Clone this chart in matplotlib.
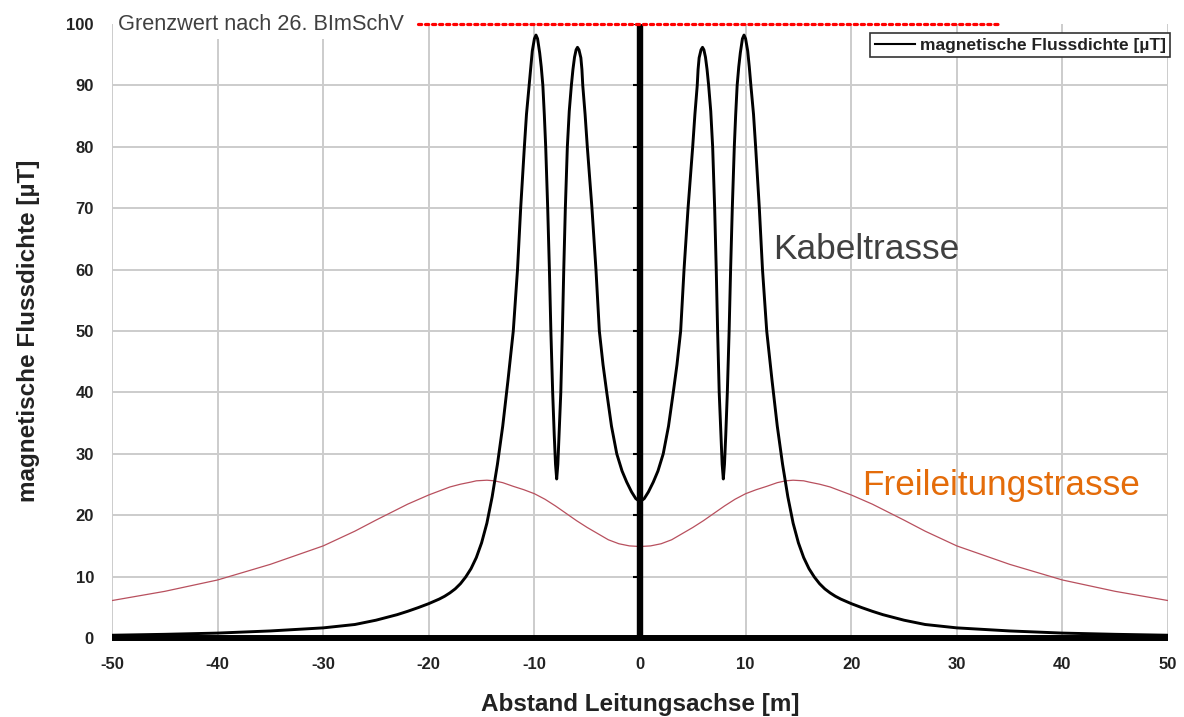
import numpy as np
import matplotlib
matplotlib.use('Agg')
import matplotlib.pyplot as plt

plt.rcParams['font.family'] = ['Liberation Sans', 'DejaVu Sans']
plt.rcParams['axes.unicode_minus'] = False

# %% ============================== Data =======================================
# Kabeltrasse (black)
kabel_x = [-50, -45, -40, -35, -30, -27, -25, -23, -22, -21, -20, -19, -18.5,
           -18, -17.5, -17, -16.5, -16, -15.5, -15, -14.5, -14, -13.5, -13,
           -12.5, -12, -11.6, -11.3, -10.95, -10.75, -10.5, -10.35, -10.2,
           -10.0, -9.85, -9.7, -9.5, -9.35, -9.2, -9.06, -8.93, -8.74, -8.58,
           -8.44, -8.27, -8.12, -8.0, -7.89, -7.78, -7.67, -7.5, -7.35, -7.22,
           -7.07, -6.88, -6.7, -6.5, -6.35, -6.2, -6.05, -5.92, -5.78, -5.6,
           -5.5, -5.42, -5.2, -4.99, -4.55, -4.17, -3.85, -3.5, -3.15, -2.7,
           -2.2, -1.7, -1.26, -0.8, -0.4, 0,
           0.4, 0.8, 1.26, 1.7, 2.2, 2.7, 3.15, 3.5, 3.85, 4.17, 4.55, 4.99,
           5.2, 5.42, 5.5, 5.6, 5.78, 5.92, 6.05, 6.2, 6.35, 6.5, 6.7, 6.88,
           7.07, 7.22, 7.35, 7.5, 7.67, 7.78, 7.89, 8.0, 8.12, 8.27, 8.44,
           8.58, 8.74, 8.93, 9.06, 9.2, 9.35, 9.5, 9.7, 9.85, 10.0, 10.2,
           10.35, 10.5, 10.75, 10.95, 11.3, 11.6, 12, 12.5, 13, 13.5, 14,
           14.5, 15, 15.5, 16, 16.5, 17, 17.5, 18, 18.5, 19, 20, 21, 22, 23,
           25, 27, 30, 35, 40, 45, 50]
kabel_y = [0.45, 0.6, 0.8, 1.15, 1.65, 2.2, 2.9, 3.8, 4.35, 4.95, 5.6, 6.35,
           6.8, 7.35, 8.0, 8.85, 9.95, 11.3, 13.1, 15.5, 18.7, 23.0, 28.3,
           34.5, 42.0, 50, 60, 70, 80, 85.3, 90, 93.0, 95.6,
           97.6, 98.2, 97.6, 95.3, 93.0, 90, 85.2, 80, 70, 60,
           50, 40, 33, 28.3, 25.9, 28.3, 33, 40, 50, 60,
           70, 80, 85.8, 90, 92.6, 94.6, 95.8, 96.2, 95.8, 94.5,
           92.6, 90, 85.3, 80, 70, 60, 50, 44.5, 40, 34.5,
           30, 27.2, 25.4, 23.8, 22.7, 22.2,
           22.7, 23.8, 25.4, 27.2, 30, 34.5, 40, 44.5, 50, 60, 70, 80,
           85.3, 90, 92.6, 94.5, 95.8, 96.2, 95.8, 94.6, 92.6, 90, 85.8, 80,
           70, 60, 50, 40, 33, 28.3, 25.9, 28.3, 33, 40, 50,
           60, 70, 80, 85.2, 90, 93.0, 95.3, 97.6, 98.2, 97.6, 95.6,
           93.0, 90, 85.3, 80, 70, 60, 50, 42.0, 34.5, 28.3, 23.0,
           18.7, 15.5, 13.1, 11.3, 9.95, 8.85, 8.0, 7.35, 6.8, 6.35, 5.6,
           4.95, 4.35, 3.8, 2.9, 2.2, 1.65, 1.15, 0.8, 0.6, 0.45]

# Freileitungstrasse (red)
frei_x = [-50, -45, -40, -35, -30, -27, -25, -22, -20, -18, -17, -16, -15.5,
          -14.5, -13.8, -13, -12, -11, -10, -9, -8, -7, -6, -5, -4, -3, -2,
          -1, 0,
          1, 2, 3, 4, 5, 6, 7, 8, 9, 10, 11, 12, 13, 13.8, 14.5, 15.5, 16, 17,
          18, 20, 22, 25, 27, 30, 35, 40, 45, 50]
frei_y = [6.1, 7.6, 9.45, 12.0, 15.0, 17.4, 19.2, 21.8, 23.3, 24.6, 25.05,
          25.4, 25.6, 25.7, 25.6, 25.3, 24.7, 24.15, 23.5, 22.6, 21.5, 20.3,
          19.1, 18.0, 17.0, 16.0, 15.35, 15.0, 14.9,
          15.0, 15.35, 16.0, 17.0, 18.0, 19.1, 20.3, 21.5, 22.6, 23.5, 24.15,
          24.7, 25.3, 25.6, 25.7, 25.6, 25.4, 25.05, 24.6, 23.3, 21.8, 19.2,
          17.4, 15.0, 12.0, 9.45, 7.6, 6.1]

# Grenzwert line
grenz_x = [-21, 34]
grenz_y = [100, 100]

x_ticks = [-50, -40, -30, -20, -10, 0, 10, 20, 30, 40, 50]
y_ticks = [0, 10, 20, 30, 40, 50, 60, 70, 80, 90, 100]

# %% ============================= Figure =====================================
fig = plt.figure(figsize=(11.84, 7.17), dpi=100)
ax = fig.add_axes([112/1184, 1 - 638/717, (1168-112)/1184, (638-24)/717])

ax.set_xlim(-50, 50)
ax.set_ylim(0, 100)
ax.set_xticks(x_ticks)
ax.set_yticks(y_ticks)
ax.tick_params(length=0, labelsize=12, labelcolor='#222222')
ax.tick_params(axis='y', pad=13)
ax.tick_params(axis='x', pad=14)
for lab in ax.get_xticklabels() + ax.get_yticklabels():
    lab.set_fontweight('bold')

ax.grid(True, color='#cccccc', linewidth=1.4, zorder=0)
ax.yaxis.get_gridlines()[-1].set_visible(False)
for s in ax.spines.values():
    s.set_visible(False)

# axes crosses
ax.plot([-50, 50], [0, 0], color='black', lw=4.3, solid_capstyle='butt',
        clip_on=False, zorder=4)
ax.plot([0, 0], [0, 100], color='black', lw=4.6, solid_capstyle='butt',
        clip_on=False, zorder=4)
ax.plot(np.zeros(len(y_ticks) - 1), y_ticks[1:], ls='none', marker=0,
        markersize=5, mew=1.5, color='black', zorder=4)

# %% ============================== Plot ======================================
ax.plot(frei_x, frei_y, color='#b8505e', lw=0.9, zorder=3)
ax.plot(kabel_x, kabel_y, color='black', lw=2.1, zorder=5,
        solid_joinstyle='round', label='magnetische Flussdichte [µT]')
ax.plot(grenz_x, grenz_y, color='#ff0000', lw=2.3, linestyle=(0, (1, 1.2)),
        dash_capstyle='round', clip_on=False, zorder=6)

# %% ============================== Text ======================================
ax.text(-49.45, 100, 'Grenzwert nach 26. BImSchV', fontsize=15.7,
        color='#404040', va='center', ha='left', zorder=7,
        bbox=dict(facecolor='white', edgecolor='none', pad=3))
ax.text(12.6, 63.2, 'Kabeltrasse', fontsize=25.4,
        color='#404040', va='center', ha='left')
ax.text(21.0, 24.9, 'Freileitungstrasse', fontsize=25.3,
        color='#e46c0a', va='center', ha='left')

ax.set_xlabel('Abstand Leitungsachse [m]', fontsize=17.5, fontweight='bold',
              color='#222222', labelpad=15)
ax.set_ylabel('magnetische Flussdichte [µT]', fontsize=17.5,
              fontweight='bold', color='#222222', labelpad=19)

leg = ax.legend(loc='upper right', bbox_to_anchor=(1.002, 0.985),
                fancybox=False, framealpha=1, edgecolor='#333333',
                prop={'size': 12.5, 'weight': 'bold'}, handlelength=2.3,
                handletextpad=0.3, borderpad=0.25, borderaxespad=0)
leg.get_frame().set_linewidth(1.2)
for t in leg.get_texts():
    t.set_color('#222222')
leg.get_lines()[0].set_linewidth(1.5)
leg.set_zorder(8)

fig.savefig('out.png', dpi=100)
